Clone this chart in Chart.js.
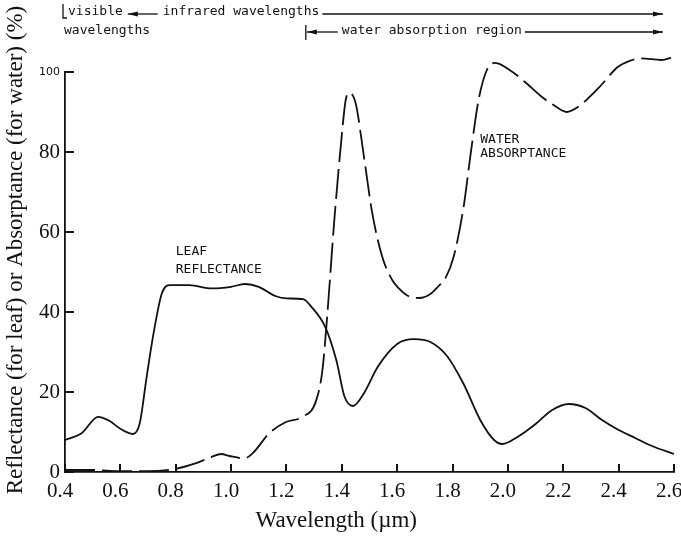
<!DOCTYPE html>
<html lang="en">
<head>
  <meta charset="UTF-8">
  <title>Leaf reflectance and water absorptance</title>
  <script src="https://cdn.jsdelivr.net/npm/chart.js"></script>
  <style>
    html, body { margin: 0; padding: 0; background: #fff; }
  </style>
</head>
<body>
  <canvas id="myChart" width="681" height="536"></canvas>

  <script>
    // leaf reflectance (solid line)
    const leafWavelengths = [0.40, 0.46, 0.52, 0.56, 0.60, 0.645, 0.67, 0.695, 0.72, 0.75, 0.78, 0.85, 0.93, 1.00, 1.05, 1.10, 1.16, 1.20, 1.26, 1.29, 1.34, 1.38, 1.41, 1.44, 1.48, 1.53, 1.60, 1.66, 1.72, 1.78, 1.84, 1.90, 1.95, 1.98, 2.04, 2.10, 2.16, 2.22, 2.28, 2.34, 2.40, 2.46, 2.52, 2.60];
    const leafReflectance = [8, 9.7, 13.8, 12.8, 10.8, 9.5, 12.2, 23.8, 34.7, 44.7, 46.7, 46.7, 45.9, 46.3, 47, 46.3, 44, 43.4, 43.2, 41.3, 36.3, 28, 18.8, 16.5, 19.7, 26.3, 32, 33.2, 32.5, 29, 22, 13, 8, 7, 9, 12, 15.5, 17, 16, 13, 10.5, 8.5, 6.5, 4.5];

    // water absorptance (dashed line)
    const waterWavelengths = [0.40, 0.50, 0.60, 0.70, 0.80, 0.874, 0.93, 0.964, 0.994, 1.048, 1.078, 1.138, 1.198, 1.258, 1.306, 1.33, 1.348, 1.372, 1.396, 1.414, 1.426, 1.45, 1.48, 1.51, 1.546, 1.582, 1.606, 1.64, 1.68, 1.72, 1.75, 1.774, 1.804, 1.84, 1.864, 1.894, 1.924, 1.954, 2.014, 2.07, 2.122, 2.17, 2.212, 2.254, 2.326, 2.398, 2.44, 2.482, 2.554, 2.60];
    const waterAbsorptance = [0.5, 0.5, 0.2, 0.2, 0.8, 2.2, 3.8, 4.5, 4, 3.4, 4.7, 9.7, 12.5, 13.8, 17.6, 25.5, 39.7, 62.2, 81.3, 93, 94.8, 92.2, 78.8, 64.7, 53.8, 48, 45.9, 44, 43.5, 44.5, 46.5, 48.4, 53.8, 66.3, 78.8, 93, 100.5, 102.3, 100.1, 97, 93.8, 91.5, 90, 91.3, 95.9, 101.3, 102.8, 103.4, 103, 103.8];

    // axis ranges and band edges (micrometres)
    const xRange = [0.4, 2.6];
    const yRange = [0, 100];
    const visibleStart = 0.4;
    const waterRegionStart = 1.27;
    const bandEnd = 2.56;

    const ink = '#111';
    const serif = '"Liberation Serif", "Times New Roman", serif';
    const mono = '"DejaVu Sans Mono", monospace';

    function toPoints(xs, ys) {
      return xs.map((w, i) => ({ x: w, y: ys[i] }));
    }

    function arrow(ctx, x1, x2, yy, headAt) {
      ctx.beginPath();
      ctx.moveTo(x1, yy);
      ctx.lineTo(x2, yy);
      ctx.stroke();
      const dir = headAt === 'end' ? 1 : -1;
      const hx = headAt === 'end' ? x2 : x1;
      ctx.beginPath();
      ctx.moveTo(hx, yy);
      ctx.lineTo(hx - dir * 10, yy - 2.5);
      ctx.lineTo(hx - dir * 10, yy + 2.5);
      ctx.closePath();
      ctx.fill();
    }

    // inward tick marks, axis titles, curve labels and the bands above the plot
    const annotations = {
      id: 'annotations',
      afterDraw(chart) {
        const { ctx, chartArea } = chart;
        const x = chart.scales.x, y = chart.scales.y;
        ctx.save();
        ctx.fillStyle = ink;
        ctx.strokeStyle = ink;
        ctx.lineWidth = 2;

        ctx.beginPath();
        x.ticks.forEach(t => {
          const px = Math.round(x.getPixelForValue(t.value));
          ctx.moveTo(px, chartArea.bottom);
          ctx.lineTo(px, chartArea.bottom - 8);
        });
        y.ticks.forEach(t => {
          const py = Math.round(y.getPixelForValue(t.value));
          ctx.moveTo(chartArea.left, py);
          ctx.lineTo(chartArea.left + 9, py);
        });
        ctx.stroke();

        ctx.lineWidth = 1.3;
        ctx.font = '23px ' + serif;
        ctx.textAlign = 'center';
        ctx.textBaseline = 'middle';
        ctx.fillText('Wavelength (\u00b5m)', x.getPixelForValue(1.38), 521);
        ctx.save();
        ctx.translate(16, y.getPixelForValue(55.5));
        ctx.rotate(-Math.PI / 2);
        ctx.fillText('Reflectance (for leaf) or Absorptance (for water) (%)', 0, 0);
        ctx.restore();

        ctx.font = '13px ' + mono;
        ctx.textAlign = 'left';
        ctx.fillText('LEAF', x.getPixelForValue(0.80), y.getPixelForValue(55));
        ctx.fillText('REFLECTANCE', x.getPixelForValue(0.80), y.getPixelForValue(50.5));
        ctx.fillText('WATER', x.getPixelForValue(1.90), y.getPixelForValue(83.2));
        ctx.fillText('ABSORPTANCE', x.getPixelForValue(1.90), y.getPixelForValue(79.7));

        // band rows
        const row1 = 12, row2 = 31;
        const x0 = x.getPixelForValue(visibleStart) - 2;
        const xEnd = x.getPixelForValue(bandEnd);
        ctx.beginPath();
        ctx.moveTo(x0, 4);
        ctx.lineTo(x0, 18);
        ctx.lineTo(x0 + 4, 18);
        ctx.stroke();
        ctx.fillText('visible', x0 + 5, row1);
        let cx = x0 + 5 + ctx.measureText('visible').width + 5;
        arrow(ctx, cx, cx + 30, row1 + 2, 'start');
        cx += 35;
        ctx.fillText('infrared wavelengths', cx, row1);
        cx += ctx.measureText('infrared wavelengths').width + 3;
        arrow(ctx, cx, xEnd, row1 + 2, 'end');

        ctx.fillText('wavelengths', x0 + 1, row2);
        const xw = x.getPixelForValue(waterRegionStart);
        ctx.beginPath();
        ctx.moveTo(xw, row2 - 6);
        ctx.lineTo(xw, row2 + 9);
        ctx.stroke();
        arrow(ctx, xw + 1, xw + 32, row2 + 1, 'start');
        cx = xw + 36;
        ctx.fillText('water absorption region', cx, row2);
        cx += ctx.measureText('water absorption region').width + 3;
        arrow(ctx, cx, xEnd, row2 + 1, 'end');
        ctx.restore();
      }
    };

    const ctx = document.getElementById('myChart').getContext('2d');
    const myChart = new Chart(ctx, {
      type: 'line',
      data: {
        datasets: [{
          label: 'Leaf reflectance',
          data: toPoints(leafWavelengths, leafReflectance),
          borderColor: ink,
          borderWidth: 1.8,
          pointRadius: 0,
          cubicInterpolationMode: 'monotone',
          fill: false,
          clip: false
        }, {
          label: 'Water absorptance',
          data: toPoints(waterWavelengths, waterAbsorptance),
          borderColor: ink,
          borderWidth: 1.8,
          borderDash: [30, 7],
          pointRadius: 0,
          cubicInterpolationMode: 'monotone',
          fill: false,
          clip: false
        }]
      },
      options: {
        responsive: false,
        animation: false,
        layout: { padding: { top: 72, right: 7, left: 0, bottom: 0 } },
        plugins: { legend: { display: false }, tooltip: { enabled: false } },
        scales: {
          x: {
            type: 'linear',
            min: xRange[0],
            max: xRange[1],
            border: { color: ink, width: 1.8 },
            grid: { display: false, drawTicks: false },
            ticks: {
              stepSize: 0.2,
              padding: 7,
              labelOffset: -5,
              color: ink,
              autoSkip: false,
              maxRotation: 0,
              font: { family: serif, size: 21 },
              callback: v => v.toFixed(1)
            },
            afterFit(s) { s.height = 64; s.paddingLeft = 0; s.paddingRight = 0; }
          },
          y: {
            min: yRange[0],
            max: yRange[1],
            border: { color: ink, width: 1.8 },
            grid: { display: false, drawTicks: false },
            ticks: {
              stepSize: 20,
              padding: 5,
              color: ink,
              font: c => (c.tick && c.tick.value === 100)
                ? { family: '"DejaVu Sans", sans-serif', size: 11 }
                : { family: serif, size: 21 }
            },
            afterFit(s) { s.width = 65; s.paddingTop = 0; s.paddingBottom = 0; }
          }
        }
      },
      plugins: [annotations]
    });
  </script>
</body>
</html>
